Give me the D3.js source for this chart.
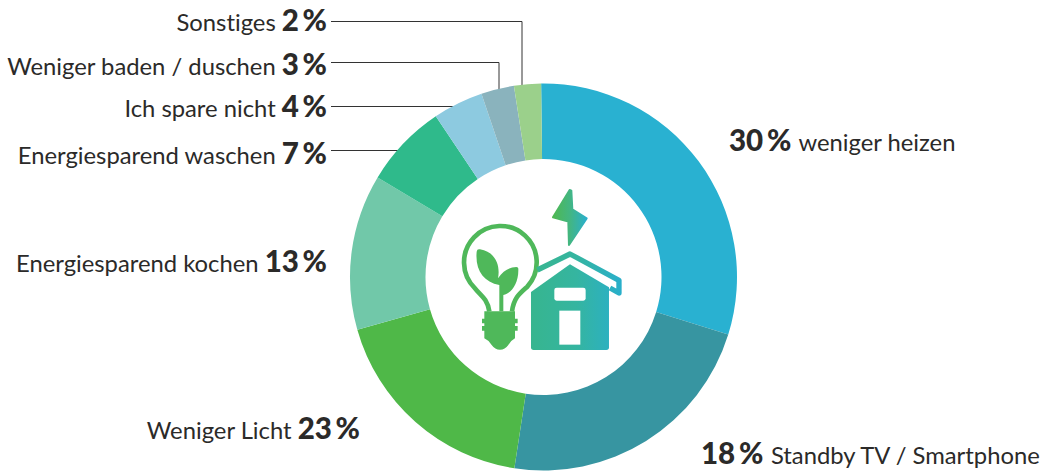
<!DOCTYPE html>
<html><head><meta charset="utf-8">
<script src="https://cdn.jsdelivr.net/npm/d3@7/dist/d3.min.js"></script>
<style>html,body{margin:0;background:#fff}svg{display:block}
text{font-family:Lato,sans-serif;fill:#2b2a29;font-variant-ligatures:none}
.n{font-size:23.8px}.b{font-size:29.5px;font-weight:900}</style>
</head><body><svg id="c" width="1048" height="472"></svg>
<script>
const sliceNames=["weniger heizen","Standby TV / Smartphone","Weniger Licht","Energiesparend kochen","Energiesparend waschen","Ich spare nicht","Weniger baden / duschen","Sonstiges"];
const sliceShares=[30,22.6,18.2,13,7,4.2,2.75,2.25];
const printedPercents=[30,18,23,13,7,4,3,2];
const sliceColors=["#29b1d1","#3795a1","#4fb848","#71c8a9","#2fba8b","#8dcae0","#8ab3bd","#9bd08b"];
const labelRows=[
 {i:7,x:327,y:31,anchor:"end",line:[[331,21.5],[522,21.5],[522,90]]},
 {i:6,x:327,y:75,anchor:"end",line:[[331,62.5],[499,62.5],[499,92]]},
 {i:5,x:327,y:117,anchor:"end",line:[[331,106.5],[455,106.5]]},
 {i:4,x:327,y:164,anchor:"end",line:[[331,150.5],[400,150.5]]},
 {i:3,x:327,y:272,anchor:"end"},
 {i:2,x:360,y:439,anchor:"end"},
 {i:0,x:729,y:151,anchor:"start"},
 {i:1,x:701,y:464,anchor:"start"}];
const svg=d3.select("#c"),cx=543.5,cy=277,R=193.5,r0=118;
const defs=svg.append("defs");
function grad(id,x1,x2,stops){const g=defs.append("linearGradient").attr("id",id).attr("gradientUnits","userSpaceOnUse")
 .attr("x1",x1).attr("x2",x2).attr("y1",0).attr("y2",0);
 stops.forEach(s=>g.append("stop").attr("offset",s[0]).attr("stop-color",s[1]));}
grad("gb",336,443,[[0,"#4fb84f"],[.5,"#43b682"],[1,"#29afd0"]]);
grad("gh",273,545,[[0,"#37b58f"],[.5,"#35b5a0"],[1,"#29afcb"]]);

const lines=svg.append("g");
labelRows.filter(d=>d.line).forEach(d=>lines.append("path").attr("d",d3.line()(d.line))
  .attr("fill","none").attr("stroke","#333").attr("stroke-width",1));

const pie=d3.pie().sort(null).value(d=>d).startAngle(-0.7*Math.PI/180).endAngle((360-0.7)*Math.PI/180);
const arc=d3.arc().innerRadius(r0).outerRadius(R);
svg.append("g").attr("transform",`translate(${cx},${cy})`).selectAll("path").data(pie(sliceShares)).join("path")
  .attr("d",arc).attr("fill",(d,i)=>sliceColors[i]);

labelRows.forEach(d=>{
  const t=svg.append("text").attr("x",d.x).attr("y",d.y).attr("text-anchor",d.anchor);
  const name=sliceNames[d.i],pct=printedPercents[d.i]+"\u2009%";
  if(d.anchor==="end"){t.append("tspan").attr("class","n").text(name+" ");t.append("tspan").attr("class","b").text(pct);}
  else{t.append("tspan").attr("class","b").text(pct);t.append("tspan").attr("class","n").attr("dx",1.5).text(" "+name);}
});

const ic=svg.append("g").attr("transform","translate(440,170) scale(0.3333)");
ic.append("path").attr("fill","url(#gb)").attr("stroke","url(#gb)").attr("stroke-width",6).attr("stroke-linejoin","round")
 .attr("d","M389,60 L339,142 L385,155 L387,225 L440,145 L397,118 L394,62Z");
// bulb
ic.append("path").attr("fill","none").attr("stroke","#4fb85a").attr("stroke-width",14)
 .attr("d","M148,424 C142,385 120,375 105,355 A109,109 0 1 1 262,350 C240,370 222,382 216,424");
ic.append("path").attr("fill","#4fb85a")
 .attr("d","M133,424 H225 V446 H233 V460 H225 V468 H233 V482 H225 V505 Q212,512 205,525 Q195,539 180,539 Q165,539 155,525 Q148,512 133,505 V482 H126 V468 H133 V460 H126 V446 H133Z");
ic.append("path").attr("fill","#4fb85a").attr("d","M178,424 V345 C130,335 105,300 110,245 Q111,236 120,238 C165,245 182,285 174,325 C190,300 210,292 229,291 Q236,291 235,298 C236,340 215,370 190,375 V424Z");
// roof band and house
ic.append("path").attr("fill","#fff").attr("d","M278,345 L300,303 L390,262 L532,340 V362 L390,283 Z");
ic.append("path").attr("fill","none").attr("stroke","url(#gh)").attr("stroke-width",16).attr("stroke-linejoin","round")
 .attr("d","M292,300 L390,252 L537,331 V369 L510,354");
ic.append("path").attr("fill","url(#gh)").attr("d","M273,366 L390,283 L507,352 V532 Q507,540 499,540 H281 Q273,540 273,532Z");
ic.append("rect").attr("x",343).attr("y",353).attr("width",94).attr("height",39).attr("rx",7).attr("fill","#fff");
ic.append("rect").attr("x",358).attr("y",422).attr("width",63).attr("height",102).attr("fill","#fff");
</script></body></html>
